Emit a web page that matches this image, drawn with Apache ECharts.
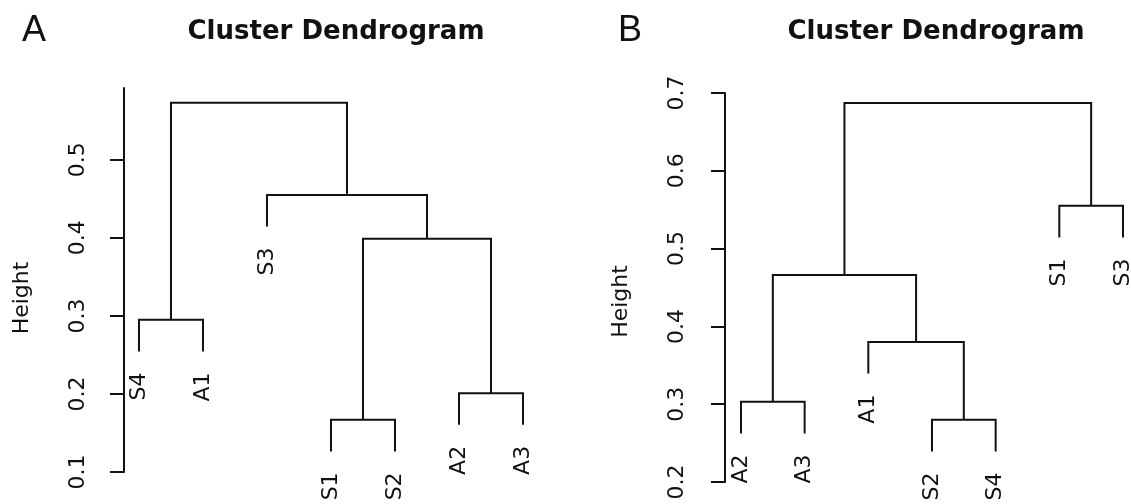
<!DOCTYPE html>
<html><head><meta charset="utf-8">
<script src="https://cdn.jsdelivr.net/npm/echarts@6/dist/echarts.min.js"></script>
<style>html,body{margin:0;padding:0;background:#fff}#c{width:1131px;height:504px}</style>
</head><body><div id="c"></div>
<script>
// Panel A
const leavesA = ['S4', 'A1', 'S3', 'S1', 'S2', 'A2', 'A3'];
// merges: [left child, right child, height]; child = leaf name or index of earlier merge
const mergesA = [
  ['S1', 'S2', 0.167],
  ['A2', 'A3', 0.201],
  ['S4', 'A1', 0.295],
  [0, 1, 0.399],
  ['S3', 3, 0.455],
  [2, 4, 0.573]
];
const ticksA = [0.1, 0.2, 0.3, 0.4, 0.5];
// Panel B
const leavesB = ['A2', 'A3', 'A1', 'S2', 'S4', 'S1', 'S3'];
const mergesB = [
  ['S2', 'S4', 0.280],
  ['A2', 'A3', 0.303],
  ['A1', 0, 0.380],
  [1, 2, 0.466],
  ['S1', 'S3', 0.555],
  [3, 4, 0.687]
];
const ticksB = [0.2, 0.3, 0.4, 0.5, 0.6, 0.7];
const titleText = 'Cluster Dendrogram';
const axisName = 'Height';
const hang = 0.1; // R hclust default: leaves hang 10% of height range

const LABEL_FONT = 'DejaVu Sans';
const INK = '#111';

function buildBrackets(leaves, merges) {
  const hs = merges.map(m => m[2]);
  const drop = hang * (Math.max(...hs) - Math.min(...hs));
  const nodeX = [];
  const out = [];
  merges.forEach((m, i) => {
    const h = m[2];
    const child = c => {
      if (typeof c === 'string') {
        return { x: leaves.indexOf(c) + 1, y: h - drop, label: c };
      }
      return { x: nodeX[c], y: merges[c][2], label: null };
    };
    const L = child(m[0]), R = child(m[1]);
    nodeX[i] = (L.x + R.x) / 2;
    out.push({ L, R, h });
  });
  return out;
}

const bracketsA = buildBrackets(leavesA, mergesA);
const bracketsB = buildBrackets(leavesB, mergesB);

function makeRender(brackets) {
  return function (params, api) {
    const b = brackets[params.dataIndex];
    const p1 = api.coord([b.L.x, b.L.y]);
    const p2 = api.coord([b.L.x, b.h]);
    const p3 = api.coord([b.R.x, b.h]);
    const p4 = api.coord([b.R.x, b.R.y]);
    const children = [{
      type: 'polyline',
      shape: { points: [p1, p2, p3, p4] },
      style: { stroke: INK, lineWidth: 2, fill: null }
    }];
    [[b.L, p1], [b.R, p4]].forEach(([c, p]) => {
      if (c.label) {
        children.push({
          type: 'text',
          x: p[0], y: p[1] + 21,
          rotation: Math.PI / 2,
          style: {
            text: c.label, fill: INK, fontSize: 22, fontFamily: LABEL_FONT,
            align: 'right', verticalAlign: 'middle'
          }
        });
      }
    });
    return { type: 'group', children };
  };
}

function yAxisFor(gridIndex, ticks, max, nameGap, namePad, margin) {
  return {
    type: 'value', gridIndex,
    min: ticks[0], max,
    interval: 0.1,
    name: axisName, nameLocation: 'middle', nameRotate: 90, nameGap,
    nameTextStyle: { fontSize: 22, fontFamily: LABEL_FONT, color: INK, padding: namePad },
    axisLine: { show: true, lineStyle: { color: INK, width: 2 } },
    axisTick: { show: true, length: 14, lineStyle: { color: INK, width: 2 }, customValues: ticks },
    axisLabel: {
      rotate: 90, margin, fontSize: 22, fontFamily: LABEL_FONT, color: INK,
      customValues: ticks,
      formatter: v => v.toFixed(1)
    },
    splitLine: { show: false }
  };
}

const chart = echarts.init(document.getElementById('c'), null, { renderer: 'canvas' });
chart.setOption({
  backgroundColor: '#fff',
  animation: false,
  title: [
    { text: 'A', left: 17, top: 8, textStyle: { fontSize: 36, fontWeight: 'normal', fontFamily: 'Liberation Sans', color: INK } },
    { text: 'B', left: 613, top: 8, textStyle: { fontSize: 36, fontWeight: 'normal', fontFamily: 'Liberation Sans', color: INK } },
    { text: titleText, left: 331, top: 14, textAlign: 'center', textStyle: { fontSize: 26, fontWeight: 'bold', fontFamily: LABEL_FONT, color: INK } },
    { text: titleText, left: 931, top: 14, textAlign: 'center', textStyle: { fontSize: 26, fontWeight: 'bold', fontFamily: LABEL_FONT, color: INK } }
  ],
  grid: [
    { left: 124, width: 415, top: 88, height: 384 },
    { left: 725, width: 406, top: 93, height: 389 }
  ],
  xAxis: [
    { type: 'value', gridIndex: 0, min: 0.766, max: 7.25, show: false },
    { type: 'value', gridIndex: 1, min: 0.749, max: 7.126, show: false }
  ],
  yAxis: [
    yAxisFor(0, ticksA, 0.592, 91, [0, 36, 0, 0], 35),
    yAxisFor(1, ticksB, 0.7, 93, [0, 28, 0, 0], 37)
  ],
  series: [
    {
      type: 'custom', xAxisIndex: 0, yAxisIndex: 0, clip: false,
      data: bracketsA.map(b => [b.L.x, b.h]),
      renderItem: makeRender(bracketsA)
    },
    {
      type: 'custom', xAxisIndex: 1, yAxisIndex: 1, clip: false,
      data: bracketsB.map(b => [b.L.x, b.h]),
      renderItem: makeRender(bracketsB)
    }
  ]
});
</script>
</body></html>
